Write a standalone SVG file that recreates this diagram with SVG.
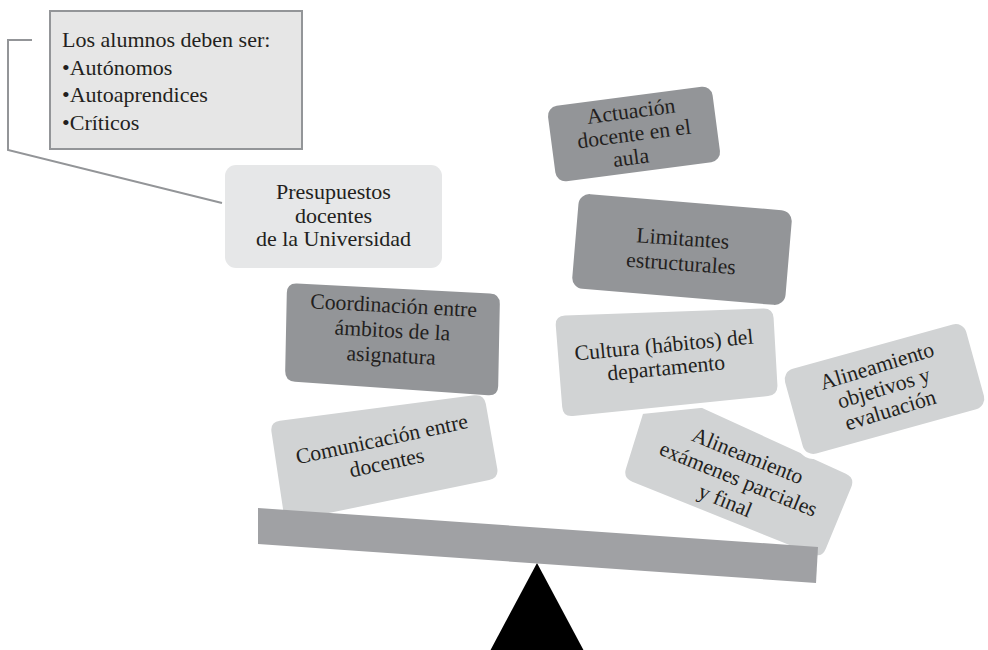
<svg xmlns="http://www.w3.org/2000/svg" width="988" height="650" viewBox="0 0 988 650">
<style>
  .t { font-family: "Liberation Serif", "Times New Roman", serif; font-size: 21.7px; fill: #231f20; text-anchor: middle; }
  .lt { font-family: "Liberation Serif", "Times New Roman", serif; font-size: 22px; fill: #231f20; }
  .dark { fill: #939598; }
  .light { fill: #d1d3d4; }
  .pale { fill: #e6e7e8; }
  .halo { stroke: #ffffff; stroke-width: 10; stroke-linejoin: round; paint-order: stroke; }
  .conn { fill: none; stroke: #939598; stroke-width: 2; }
</style>
<rect x="0" y="0" width="988" height="650" fill="#ffffff"/>

<g id="connectors">
  <path class="conn" d="M32,40 H8 V150 L222,203"/>
</g>

<g id="legend">
  <rect x="50" y="11" width="252" height="138" fill="#e6e6e6" stroke="#939598" stroke-width="2"/>
  <text class="lt" x="62" y="47">Los alumnos deben ser:</text>
  <text class="lt" x="62" y="75">•Autónomos</text>
  <text class="lt" x="62" y="102">•Autoaprendices</text>
  <text class="lt" x="62" y="130">•Críticos</text>
</g>

<g id="presupuestos">
  <rect class="pale" x="225" y="165" width="217" height="103" rx="11"/>
  <text class="t" style="font-size:22px" x="333.5" y="199">Presupuestos</text>
  <text class="t" style="font-size:22px" x="333.5" y="222.5">docentes</text>
  <text class="t" style="font-size:22px" x="333.5" y="246">de la Universidad</text>
</g>

<g id="coordinacion">
  <path class="dark" d="M297,283.5 L490,293.5 Q500,294 499.8,304 L498.2,386 Q498,396 488,395.3 L295,381.7 Q285,381 285.2,371 L286.8,293 Q287,283 297,283.5 Z"/>
  <g transform="translate(392,338.5) rotate(3)">
    <text class="t" x="0" y="-26">Coordinación entre</text>
    <text class="t" x="0" y="-1">ámbitos de la</text>
    <text class="t" x="0" y="24">asignatura</text>
  </g>
</g>

<g id="comunicacion">
  <path class="light" d="M279.9,420.7 L474.1,395.3 Q484,394 485.8,403.8 L497.2,468.2 Q499,478 489.2,480 L294.8,520 Q285,522 283.5,512.1 L271.5,431.9 Q270,422 279.9,420.7 Z"/>
  <g transform="translate(384,450) rotate(-12)">
    <text class="t" x="0" y="-4">Comunicación entre</text>
    <text class="t" x="0" y="20">docentes</text>
  </g>
</g>

<g id="examenes">
  <path class="light" d="M661.1,389.2 L845.9,473.8 Q855,478 851.2,487.2 L825.8,548.8 Q822,558 812.7,554.3 L632.3,481.7 Q623,478 626,468.5 L649,394.5 Q652,385 661.1,389.2 Z"/>
  <g transform="translate(738,480) rotate(22)">
    <text class="t" x="0" y="-19">Alineamiento</text>
    <text class="t" x="0" y="6">exámenes parciales</text>
    <text class="t" x="-4" y="31">y final</text>
  </g>
</g>

<g id="cultura">
  <path class="light halo" d="M565,315.6 L763,308.4 Q773,308 773.6,318 L777.4,385 Q778,395 768.1,396 L572.9,416 Q563,417 562.2,407 L555.8,326 Q555,316 565,315.6 Z"/>
  <g transform="translate(665,356) rotate(-5.5)">
    <text class="t" x="0" y="-4">Cultura (hábitos) del</text>
    <text class="t" x="0" y="19">departamento</text>
  </g>
</g>

<g id="objetivos">
  <rect class="light halo" x="-94" y="-44" width="188" height="88" rx="11" transform="translate(884.5,389) rotate(-15.5)"/>
  <g transform="translate(884,389) rotate(-17)">
    <text class="t" x="0" y="-17">Alineamiento</text>
    <text class="t" x="0" y="6">objetivos y</text>
    <text class="t" x="0" y="29">evaluación</text>
  </g>
</g>

<g id="limitantes">
  <rect class="dark" x="-107" y="-47.5" width="214" height="95" rx="11" transform="translate(682,249.5) rotate(4.8)"/>
  <g transform="translate(682,249.5) rotate(4)">
    <text class="t" x="0" y="-4">Limitantes</text>
    <text class="t" x="0" y="21">estructurales</text>
  </g>
</g>

<g id="actuacion">
  <rect class="dark" x="-83" y="-38" width="166" height="76" rx="10" transform="translate(634,134) rotate(-7.5)"/>
  <g transform="translate(634,134) rotate(-7.5)">
    <text class="t" x="0" y="-16">Actuación</text>
    <text class="t" x="0" y="7">docente en el</text>
    <text class="t" x="-6" y="30">aula</text>
  </g>
</g>

<g id="fulcrum">
  <polygon points="537,563 490,651 584,651" fill="#000000"/>
</g>

<g id="beam">
  <polygon points="258,508 818,547 816,583 258,544" fill="#a0a1a4"/>
</g>
</svg>
